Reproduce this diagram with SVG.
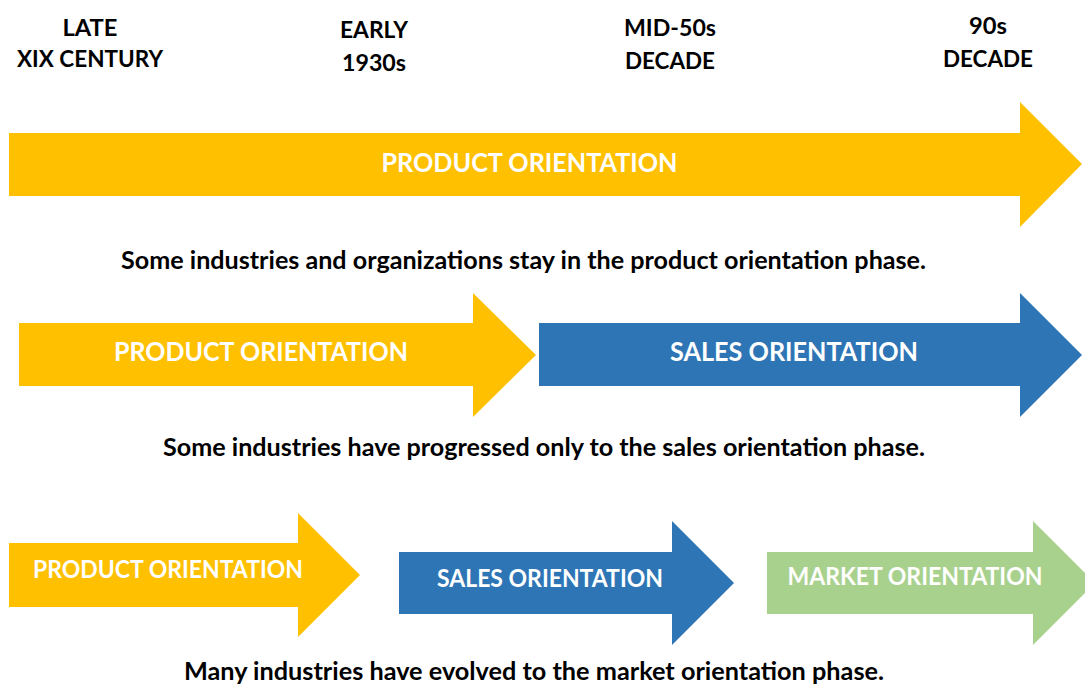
<svg xmlns="http://www.w3.org/2000/svg" width="1085" height="686" viewBox="0 0 1085 686">
  <style>
    text { font-family: Lato, "Open Sans", "Liberation Sans", sans-serif; font-weight: 700; text-anchor: middle; }
    .era { font-size: 23px; fill: #000; }
    .note { font-size: 24px; fill: #000; }
    .lbl { font-size: 27px; fill: #fff; }
    .lbl-s { font-size: 24px; fill: #fff; }
    .product { fill: #FFC000; }
    .sales { fill: #2E75B6; }
    .market { fill: #A9D18E; }
  </style>
  <rect width="1085" height="686" fill="#fff"/>

  <!-- timeline headings -->
  <g id="eras">
    <text class="era" x="90" y="36" textLength="55" lengthAdjust="spacingAndGlyphs">LATE</text>
    <text class="era" x="90" y="67" textLength="146" lengthAdjust="spacingAndGlyphs">XIX CENTURY</text>
    <text class="era" x="374" y="38" textLength="68" lengthAdjust="spacingAndGlyphs">EARLY</text>
    <text class="era" x="374" y="71" textLength="64" lengthAdjust="spacingAndGlyphs">1930s</text>
    <text class="era" x="670" y="36" textLength="92" lengthAdjust="spacingAndGlyphs">MID-50s</text>
    <text class="era" x="670" y="69" textLength="90" lengthAdjust="spacingAndGlyphs">DECADE</text>
    <text class="era" x="988" y="34" textLength="38" lengthAdjust="spacingAndGlyphs">90s</text>
    <text class="era" x="988" y="67" textLength="90" lengthAdjust="spacingAndGlyphs">DECADE</text>
  </g>

  <!-- row 1: product orientation only -->
  <g id="row1-product">
    <polygon class="product" points="9,133 1020,133 1020,102 1082,164 1020,227 1020,196 9,196"/>
    <text class="lbl" x="529.5" y="171.5" textLength="296" lengthAdjust="spacingAndGlyphs">PRODUCT ORIENTATION</text>
  </g>
  <g id="note1">
    <text class="note" x="523.5" y="269" textLength="805" lengthAdjust="spacingAndGlyphs">Some industries and organizations stay in the product orientation phase.</text>
  </g>

  <!-- row 2: product then sales -->
  <g id="row2-product">
    <polygon class="product" points="19,323 473,323 473,293 536,355 473,417 473,386 19,386"/>
    <text class="lbl" x="261" y="361" textLength="294" lengthAdjust="spacingAndGlyphs">PRODUCT ORIENTATION</text>
  </g>
  <g id="row2-sales">
    <polygon class="sales" points="539,323 1020,323 1020,293 1082,355 1020,417 1020,386 539,386"/>
    <text class="lbl" x="794" y="361" textLength="248" lengthAdjust="spacingAndGlyphs">SALES ORIENTATION</text>
  </g>
  <g id="note2">
    <text class="note" x="544" y="456" textLength="762" lengthAdjust="spacingAndGlyphs">Some industries have progressed only to the sales orientation phase.</text>
  </g>

  <!-- row 3: product, sales, market -->
  <g id="row3-product">
    <polygon class="product" points="9,543 298,543 298,513 360,575 298,637 298,607 9,607"/>
    <text class="lbl-s" x="168" y="578" textLength="270" lengthAdjust="spacingAndGlyphs">PRODUCT ORIENTATION</text>
  </g>
  <g id="row3-sales">
    <polygon class="sales" points="399,552 672,552 672,521 734,583 672,645 672,614 399,614"/>
    <text class="lbl-s" x="550" y="587" textLength="226" lengthAdjust="spacingAndGlyphs">SALES ORIENTATION</text>
  </g>
  <g id="row3-market">
    <polygon class="market" points="767,552 1033,552 1033,521 1095,583 1033,645 1033,614 767,614"/>
    <text class="lbl-s" x="915" y="585" textLength="255" lengthAdjust="spacingAndGlyphs">MARKET ORIENTATION</text>
  </g>
  <g id="note3">
    <text class="note" x="534" y="680" textLength="700" lengthAdjust="spacingAndGlyphs">Many industries have evolved to the market orientation phase.</text>
  </g>

  <g id="connectors"/>
</svg>
